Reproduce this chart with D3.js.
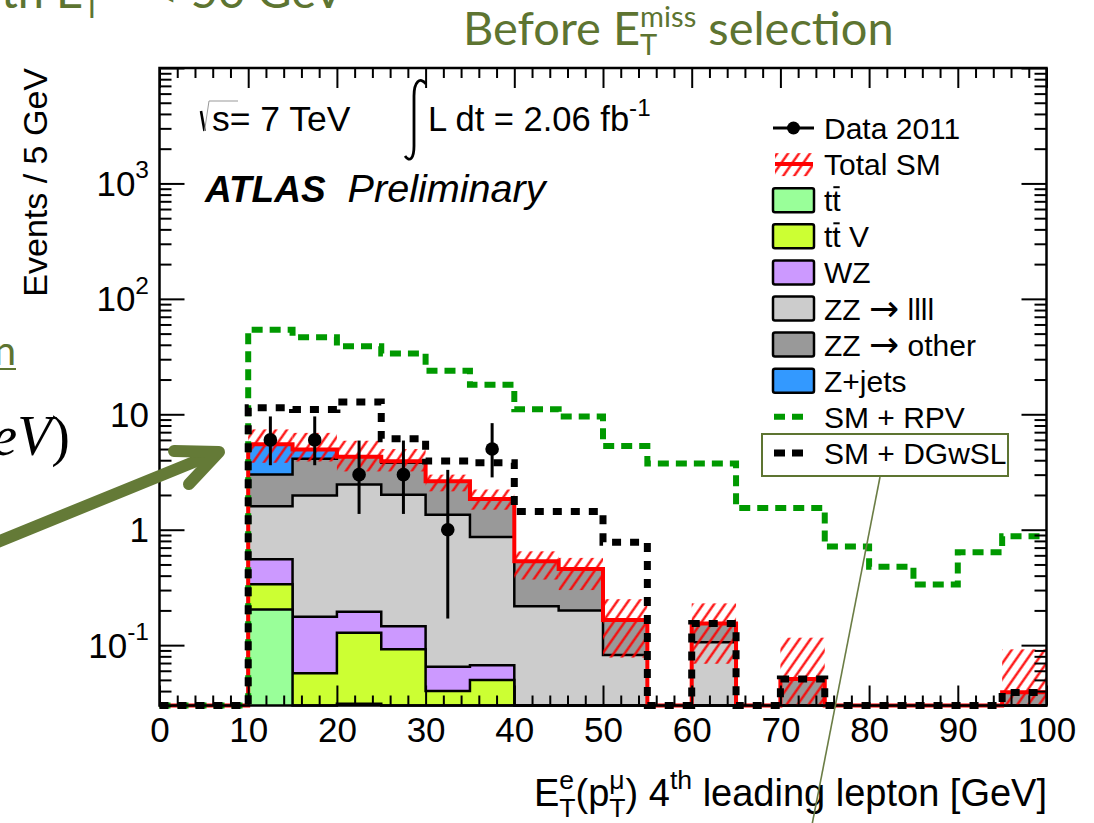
<!DOCTYPE html>
<html>
<head>
<meta charset="utf-8">
<script src="https://cdn.jsdelivr.net/npm/d3@7"></script>
<style>
  html, body { margin: 0; padding: 0; background: #fff; }
  svg { display: block; }
  svg text { white-space: pre; }
</style>
</head>
<body>
<svg id="chart" width="1094" height="823"></svg>
<script>
// ---- histogram binning: 5 GeV bins from 0 to 100 GeV ----
const binEdges = [0, 5, 10, 15, 20, 25, 30, 35, 40, 45, 50, 55, 60, 65, 70, 75, 80, 85, 90, 95, 100];

// ---- SM background contributions per bin (events / 5 GeV), stacked bottom to top ----
const ttbar   = [0, 0, 0.204, 0, 0.031, 0, 0, 0, 0, 0, 0, 0, 0, 0, 0, 0, 0, 0, 0, 0];
const ttbarV  = [0, 0, 0.133, 0.057, 0.097, 0.092, 0.040, 0.050, 0, 0, 0, 0, 0, 0, 0, 0, 0, 0, 0, 0];
const wz      = [0, 0, 0.219, 0.119, 0.067, 0.054, 0.025, 0.017, 0, 0, 0, 0, 0, 0, 0, 0, 0, 0, 0, 0];
const zzLLLL  = [0, 0, 1.038, 1.80, 2.265, 1.864, 1.285, 0.797, 0.217, 0.200, 0.082, 0, 0.106, 0, 0, 0, 0, 0, 0, 0];
const zzOther = [0, 0, 1.416, 2.14, 1.83, 1.79, 1.28, 0.986, 0.315, 0.257, 0.083, 0, 0.048, 0, 0.051, 0, 0, 0, 0, 0.039];
const zJets   = [0, 0, 2.48, 0.84, 0, 0.12, 0, 0, 0, 0, 0, 0, 0, 0, 0, 0, 0, 0, 0, 0];

// ---- total SM uncertainty band (lower / upper edge per bin) ----
const bandLow  = [0, 0, 3.8, 3.9, 3.2, 3.2, 2.15, 1.49, 0.37, 0.30, 0.078, 0, 0.069, 0, 0.01, 0, 0, 0, 0, 0.01];
const bandHigh = [0, 0, 7.4, 6.9, 5.9, 5.0, 3.0, 2.23, 0.65, 0.57, 0.25, 0, 0.23, 0, 0.116, 0, 0, 0, 0, 0.092];

// ---- signal + SM predictions ----
const smPlusRPV   = [0, 0, 54.1, 46.5, 38.8, 33.7, 23.8, 18.0, 11.05, 9.55, 5.3, 3.75, 3.75, 1.54, 1.54, 0.717, 0.477, 0.335, 0.637, 0.877];
const smPlusDGwSL = [0, 0, 11.4, 11.0, 12.8, 6.15, 3.93, 3.80, 1.44, 1.44, 0.78, 0, 0.154, 0, 0.051, 0, 0, 0, 0, 0.0388];

// ---- data 2011 (non-empty bins), with asymmetric Poisson error bars ----
const dataX       = [12.5, 17.5, 22.5, 27.5, 32.5, 37.5];
const dataCounts  = [6, 6, 3, 3, 1, 5];
const dataErrLow  = [3.62, 3.62, 1.37, 1.37, 0.17, 2.84];
const dataErrHigh = [9.58, 9.58, 5.92, 5.92, 3.30, 8.38];

// ---- axis ticks ----
const xMajorTicks = [0, 10, 20, 30, 40, 50, 60, 70, 80, 90, 100];
const yMajorTicks = [0.1, 1, 10, 100, 1000, 10000];
const yTickLabels = [["10", "-1"], ["1", ""], ["10", ""], ["10", "2"], ["10", "3"]];

// ---- legend ----
const legendLabels = ["Data 2011", "Total SM", "tt", "tt V", "WZ", "ZZ \u2192 llll", "ZZ \u2192 other", "Z+jets", "SM + RPV", "SM + DGwSL"];
const stackKeys   = ["ttbar", "ttbarV", "wz", "zzLLLL", "zzOther", "zJets"];
const stackColors = ["#99ff99", "#ccff33", "#cc99ff", "#cccccc", "#999999", "#3399ff"];

const OLIVE = "#5d7431";
const FONT = "'Liberation Sans', Arial, Helvetica, sans-serif";
const SLIDE_FONT = "Lato, 'Open Sans', sans-serif";

const svg = d3.select("#chart");
const nBins = binEdges.length - 1;

const x = d3.scaleLinear().domain([0, 100]).range([159.5, 1046.5]);
const y = d3.scaleLog().domain([0.03, 10000]).range([705.5, 68]);
const yMin = 0.03;
const yc = v => y(Math.max(v, yMin));

// hatch pattern for the SM uncertainty
const defs = svg.append("defs");
const pat = defs.append("pattern").attr("id", "hatch")
  .attr("patternUnits", "userSpaceOnUse").attr("width", 9).attr("height", 9)
  .attr("patternTransform", "rotate(35)");
pat.append("line").attr("x1", 4.5).attr("y1", -1).attr("x2", 4.5).attr("y2", 10)
  .attr("stroke", "#ff0000").attr("stroke-width", 2.2);

// small helper: lays out runs of text (with sub/superscripts) and returns widths
function rich(parent, runs, opts) {
  const g = parent.append("g");
  let cx = 0, pending = 0;
  const offsets = [];
  runs.forEach(r => {
    const size = opts.size * (r.scale || 1);
    const t = g.append("text")
      .attr("x", cx).attr("y", r.dy || 0)
      .attr("font-size", size)
      .attr("font-family", r.family || opts.family || FONT)
      .attr("font-style", r.italic ? "italic" : (opts.italic ? "italic" : "normal"))
      .attr("font-weight", r.bold ? "bold" : "normal")
      .attr("fill", opts.fill || "#000")
      .text(r.t);
    const w = t.node().getComputedTextLength();
    offsets.push(cx);
    if (r.over) {
      g.append("line").attr("x1", cx + 1).attr("x2", cx + w - 1)
        .attr("y1", (r.dy || 0) - size * 0.8).attr("y2", (r.dy || 0) - size * 0.8)
        .attr("stroke", opts.fill || "#000").attr("stroke-width", 2);
    }
    if (r.stack) { pending = w; }
    else { cx += Math.max(w, pending); pending = 0; }
  });
  return { g, width: cx, offsets };
}

// ---- stacked SM backgrounds ----
const rows = d3.range(nBins).map(i => ({
  ttbar: ttbar[i], ttbarV: ttbarV[i], wz: wz[i],
  zzLLLL: zzLLLL[i], zzOther: zzOther[i], zJets: zJets[i]
}));
const stacked = d3.stack().keys(stackKeys)(rows);

const stepPts = vals => binEdges.map((e, i) => [e, vals[Math.min(i, nBins - 1)]]);
const stepLine = d3.line().curve(d3.curveStepAfter).x(d => x(d[0])).y(d => yc(d[1]));
const stepArea = d3.area().curve(d3.curveStepAfter).x(d => x(d[0])).y0(y(yMin)).y1(d => yc(d[1]));

const plot = svg.append("g");
stacked.slice().reverse().forEach(series => {
  const tops = series.map(d => d[1]);
  const color = stackColors[stackKeys.indexOf(series.key)];
  plot.append("path").attr("d", stepArea(stepPts(tops))).attr("fill", color);
  plot.append("path").attr("d", stepLine(stepPts(tops)))
    .attr("fill", "none").attr("stroke", "#000").attr("stroke-width", 2.5);
});

// uncertainty band
plot.selectAll("rect.band").data(d3.range(nBins).filter(i => bandHigh[i] > 0)).join("rect")
  .attr("class", "band")
  .attr("x", i => x(binEdges[i])).attr("width", i => x(binEdges[i + 1]) - x(binEdges[i]))
  .attr("y", i => yc(bandHigh[i])).attr("height", i => yc(bandLow[i]) - yc(bandHigh[i]))
  .attr("fill", "url(#hatch)");

// total SM
const totalSM = d3.range(nBins).map(i => stacked[stacked.length - 1][i][1]);
plot.append("path").attr("d", stepLine(stepPts(totalSM)))
  .attr("fill", "none").attr("stroke", "#ff0000").attr("stroke-width", 4);

// signal hypotheses
plot.append("path").attr("d", stepLine(stepPts(smPlusRPV)))
  .attr("fill", "none").attr("stroke", "#009900").attr("stroke-width", 6)
  .attr("stroke-dasharray", "11,7");
plot.append("path").attr("d", stepLine(stepPts(smPlusDGwSL)))
  .attr("fill", "none").attr("stroke", "#000").attr("stroke-width", 7)
  .attr("stroke-dasharray", "9,9");

// data points
const dataG = plot.append("g");
dataX.forEach((xv, i) => {
  dataG.append("line").attr("x1", x(xv)).attr("x2", x(xv))
    .attr("y1", yc(dataErrHigh[i])).attr("y2", yc(dataErrLow[i]))
    .attr("stroke", "#000").attr("stroke-width", 3);
  dataG.append("circle").attr("cx", x(xv)).attr("cy", y(dataCounts[i])).attr("r", 6.8).attr("fill", "#000");
});

// ---- axes (ticks pointing inward on all four sides) ----
const xMinor = d3.range(0, 101, 2).filter(v => v % 10 !== 0);
const yMinor = [];
[0.01, 0.1, 1, 10, 100, 1000].forEach(dec => {
  for (let k = 2; k <= 9; k++) { const v = k * dec; if (v >= yMin && v < 10000) yMinor.push(v); }
});
function styleAxis(g) {
  g.select(".domain").remove();
  g.selectAll(".tick line").attr("stroke", "#000").attr("stroke-width", 2);
}
svg.append("g").attr("transform", "translate(0,705.5)")
  .call(d3.axisBottom(x).tickValues(xMinor).tickSize(-10).tickFormat("")).call(styleAxis);
const xAxisG = svg.append("g").attr("transform", "translate(0,705.5)")
  .call(d3.axisBottom(x).tickValues(xMajorTicks).tickSize(-20).tickPadding(12).tickFormat(d3.format("d")))
  .call(styleAxis);
xAxisG.selectAll(".tick text").attr("font-size", 35).attr("font-family", FONT).attr("fill", "#000");
svg.append("g").attr("transform", "translate(0,68)")
  .call(d3.axisTop(x).tickValues(xMinor).tickSize(-10).tickFormat("")).call(styleAxis);
svg.append("g").attr("transform", "translate(0,68)")
  .call(d3.axisTop(x).tickValues(xMajorTicks).tickSize(-20).tickFormat("")).call(styleAxis);
svg.append("g").attr("transform", "translate(159.5,0)")
  .call(d3.axisLeft(y).tickValues(yMinor).tickSize(-12).tickFormat("")).call(styleAxis);
svg.append("g").attr("transform", "translate(159.5,0)")
  .call(d3.axisLeft(y).tickValues(yMajorTicks).tickSize(-25).tickFormat("")).call(styleAxis);
svg.append("g").attr("transform", "translate(1046.5,0)")
  .call(d3.axisRight(y).tickValues(yMinor).tickSize(-12).tickFormat("")).call(styleAxis);
svg.append("g").attr("transform", "translate(1046.5,0)")
  .call(d3.axisRight(y).tickValues(yMajorTicks).tickSize(-25).tickFormat("")).call(styleAxis);

// frame
svg.append("rect").attr("x", 159.5).attr("y", 68).attr("width", 887).attr("height", 637.5)
  .attr("fill", "none").attr("stroke", "#000").attr("stroke-width", 2.5);

// y tick labels with exponents
yTickLabels.forEach((lab, i) => {
  const F = 35;
  const runs = [{ t: lab[0] }];
  if (lab[1]) runs.push({ t: lab[1], scale: 0.7, dy: -0.5 * F });
  const r = rich(svg, runs, { size: F });
  r.g.attr("transform", `translate(${149 - r.width},${y(yMajorTicks[i]) + 12.5})`);
});

// axis titles
svg.append("text")
  .attr("transform", "translate(47,68) rotate(-90)")
  .attr("text-anchor", "end").attr("font-size", 34).attr("font-family", FONT)
  .text("Events / 5 GeV");

{
  const F = 38;
  const r = rich(svg, [
    { t: "E" },
    { t: "T", scale: 0.7, dy: 0.3 * F, stack: true },
    { t: "e", scale: 0.7, dy: -0.45 * F },
    { t: "(p" },
    { t: "T", scale: 0.7, dy: 0.3 * F, stack: true },
    { t: "\u03bc", scale: 0.7, dy: -0.45 * F },
    { t: ") 4" },
    { t: "th", scale: 0.7, dy: -0.45 * F },
    { t: " leading lepton [GeV]" }
  ], { size: F });
  r.g.attr("transform", `translate(${1047 - r.width},806)`);
}

// ---- in-plot labels ----
{
  // radical sign for sqrt(s)
  svg.append("path").attr("d", "M201,111 L204.5,131").attr("stroke", "#000").attr("stroke-width", 2.6).attr("fill", "none");
  svg.append("path").attr("d", "M204.5,131 L209,101 L238,101").attr("stroke", "#999").attr("stroke-width", 1).attr("fill", "none");
  svg.append("text").attr("x", 212).attr("y", 131).attr("font-size", 35.5).attr("font-family", FONT).text("s= 7 TeV");

  // integral sign
  svg.append("path").attr("d", "M426,84 C420,76 414,82 414,96 L414,146 C414,158 410,163 405,156")
    .attr("stroke", "#000").attr("stroke-width", 2.8).attr("fill", "none");
  const r = rich(svg, [{ t: "L dt = 2.06 fb" }, { t: "-1", scale: 0.7, dy: -15 }], { size: 34.5 });
  r.g.attr("transform", "translate(428,131)");

  const a = rich(svg, [{ t: "ATLAS", bold: true, italic: true }, { t: "  Preliminary", italic: true, scale: 1.07 }], { size: 37 });
  a.g.attr("transform", "translate(205,202)");
}

// ---- legend ----
{
  const L = svg.append("g");
  const F = 30, x0 = 773, tx = 824, step = 36.1, top = 128;
  legendLabels.forEach((lab, i) => {
    const cy = top + i * step;
    if (i === 0) {
      L.append("line").attr("x1", x0).attr("x2", x0 + 41).attr("y1", cy).attr("y2", cy).attr("stroke", "#000").attr("stroke-width", 3);
      L.append("circle").attr("cx", x0 + 20.5).attr("cy", cy).attr("r", 6.5).attr("fill", "#000");
    } else if (i === 1) {
      L.append("rect").attr("x", x0 + 2).attr("y", cy - 11).attr("width", 38).attr("height", 23).attr("fill", "url(#hatch)");
      L.append("line").attr("x1", x0 + 2).attr("x2", x0 + 40).attr("y1", cy).attr("y2", cy).attr("stroke", "#ff0000").attr("stroke-width", 4);
    } else if (i >= 2 && i <= 7) {
      L.append("rect").attr("x", x0).attr("y", cy - 12).attr("width", 41).attr("height", 24).attr("rx", 2)
        .attr("fill", stackColors[i - 2]).attr("stroke", "#000").attr("stroke-width", 2.5);
    } else {
      L.append("line").attr("x1", x0 + 1).attr("x2", x0 + 31).attr("y1", cy).attr("y2", cy)
        .attr("stroke", i === 8 ? "#009900" : "#000").attr("stroke-width", i === 8 ? 6 : 7)
        .attr("stroke-dasharray", "11,7");
    }
    let runs;
    if (lab === "tt") runs = [{ t: "t" }, { t: "t", over: true }];
    else if (lab === "tt V") runs = [{ t: "t" }, { t: "t", over: true }, { t: " V" }];
    else if (lab.indexOf("\u2192") >= 0) {
      const parts = lab.split("\u2192");
      runs = [{ t: parts[0] }, { t: "\u2192", family: "'DejaVu Sans', sans-serif", scale: 1.2, dy: 1 }, { t: parts[1] }];
    }
    else runs = [{ t: lab }];
    const r = rich(L, runs, { size: F });
    r.g.attr("transform", `translate(${tx},${cy + 11})`);
  });
  // highlight box around the DGwSL entry
  L.append("rect").attr("x", 762).attr("y", 434).attr("width", 246).attr("height", 42)
    .attr("fill", "none").attr("stroke", OLIVE).attr("stroke-width", 2);
}

// ---- slide annotations around the plot ----
{
  const tg = rich(svg, [
    { t: "Before E" },
    { t: "T", scale: 0.62, dy: 10, stack: true },
    { t: "miss", scale: 0.62, dy: -18 },
    { t: " selection" }
  ], { size: 47, family: SLIDE_FONT, fill: OLIVE });
  tg.g.attr("transform", `translate(${463},45)`);

  const cut = rich(svg, [
    { t: "with " },
    { t: "E" },
    { t: "T", scale: 0.62, dy: 10, stack: true },
    { t: "miss", scale: 0.62, dy: -18 },
    { t: " < 50 GeV" }
  ], { size: 47, family: SLIDE_FONT, fill: OLIVE });
  cut.g.attr("transform", `translate(${56 - cut.offsets[1]},8)`);

  svg.append("text").attr("x", 16).attr("y", 365).attr("text-anchor", "end")
    .attr("font-size", 40).attr("font-family", SLIDE_FONT).attr("fill", OLIVE)
    .text("selection");
  svg.append("line").attr("x1", 0).attr("x2", 16).attr("y1", 369).attr("y2", 369)
    .attr("stroke", OLIVE).attr("stroke-width", 2);

  const m = rich(svg, [
    { t: "G", italic: true }, { t: "eV", italic: true }, { t: ")" }
  ], { size: 56, family: "'Liberation Serif', 'DejaVu Serif', serif" });
  m.g.attr("transform", `translate(${70 - m.width},455)`);

  // pointer line from the highlighted legend entry
  svg.append("line").attr("x1", 880).attr("y1", 477).attr("x2", 811).attr("y2", 830)
    .attr("stroke", "#6b7d45").attr("stroke-width", 1.6);

  // big arrow pointing at the low-pT bin
  svg.append("path").attr("d", "M-10,545 L216,453")
    .attr("stroke", "#647a37").attr("stroke-width", 12).attr("stroke-linecap", "round").attr("fill", "none");
  svg.append("path").attr("d", "M174,451 L219,452 L189,484")
    .attr("stroke", "#647a37").attr("stroke-width", 12).attr("stroke-linecap", "round")
    .attr("stroke-linejoin", "round").attr("fill", "none");
}
</script>
</body>
</html>
